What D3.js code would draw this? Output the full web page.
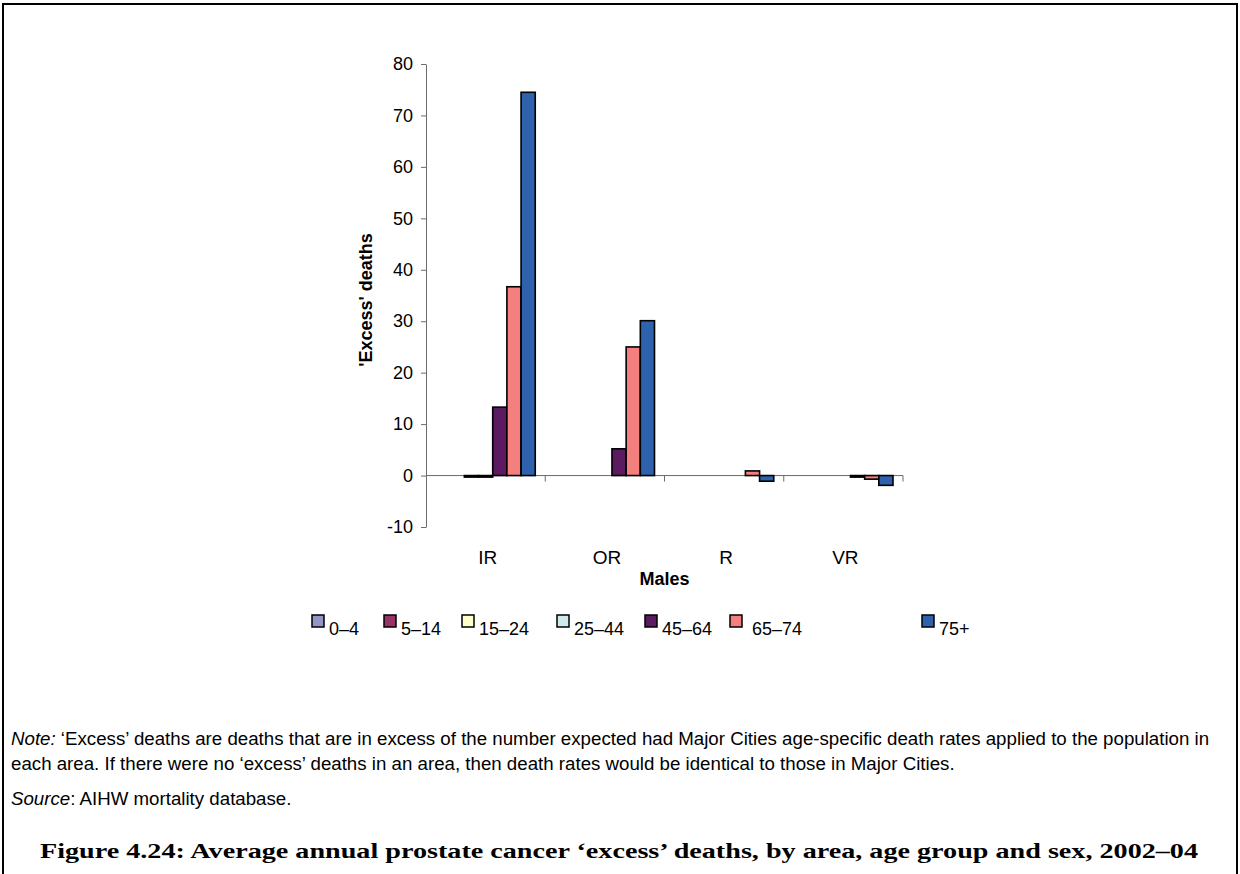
<!DOCTYPE html>
<html>
<head>
<meta charset="utf-8">
<script src="https://cdn.jsdelivr.net/npm/d3@7"></script>
<style>
	body { margin: 0; background: #fff; }
	svg { display: block; font-family: "Liberation Sans", Arial, sans-serif; }
</style>
</head>
<body>
<div id="chart"></div>
<script>
// areas along the x axis
const areas = ["IR", "OR", "R", "VR"];
// age groups (one bar each per area)
const ageGroups = ["0–4", "5–14", "15–24", "25–44", "45–64", "65–74", "75+"];
const ageColors = ["#9494c8", "#993366", "#ffffcc", "#cfe9ec", "#5c1a60", "#f47f7f", "#2f62ad"];

// 'excess' deaths per area, one list per age group (null = no bar)
const age0_4 = [null, null, null, null];
const age5_14 = [null, null, null, null];
const age15_24 = [-0.3, null, null, null];
const age25_44 = [-0.3, null, null, null];
const age45_64 = [13.3, 5.2, null, -0.3];
const age65_74 = [36.7, 25.0, 0.9, -0.7];
const age75plus = [74.5, 30.1, -1.1, -1.9];
const seriesValues = [age0_4, age5_14, age15_24, age25_44, age45_64, age65_74, age75plus];

const yTicks = [-10, 0, 10, 20, 30, 40, 50, 60, 70, 80];

// legend item x positions (Excel spaces these unevenly)
const legendX = [312, 384, 462, 557, 645, 730, 922];

const W = 1240, H = 874;
const plot = { left: 426, right: 903, top: 64, bottom: 527 };

const svg = d3.select("#chart").append("svg")
	.attr("width", W)
	.attr("height", H);

// outer frame
svg.append("rect")
	.attr("x", 3).attr("y", 4)
	.attr("width", 1234).attr("height", 900)
	.attr("fill", "none")
	.attr("stroke", "#000")
	.attr("stroke-width", 2);

const y = d3.scaleLinear()
	.domain([-10, 80])
	.range([plot.bottom, plot.top]);

const x0 = d3.scaleBand()
	.domain(areas)
	.range([plot.left, plot.right]);

const x1 = d3.scaleBand()
	.domain(ageGroups)
	.range([10, x0.bandwidth() - 10]);

// y axis
const yAxis = svg.append("g")
	.attr("transform", `translate(${plot.left},0)`)
	.call(d3.axisLeft(y).tickValues(yTicks).tickFormat(d => String(d))
		.tickSize(5).tickSizeOuter(0).tickPadding(8));
yAxis.selectAll("path, line").attr("stroke", "#6b6b6b");
yAxis.selectAll("text")
	.attr("fill", "#000")
	.style("font-size", "18px");

// x axis at zero
svg.append("line")
	.attr("x1", plot.left).attr("x2", plot.right)
	.attr("y1", y(0)).attr("y2", y(0))
	.attr("stroke", "#6b6b6b");
svg.selectAll(".xtick")
	.data(areas)
	.enter().append("line")
	.attr("class", "xtick")
	.attr("x1", d => x0(d) + x0.bandwidth())
	.attr("x2", d => x0(d) + x0.bandwidth())
	.attr("y1", y(0))
	.attr("y2", y(0) + 6)
	.attr("stroke", "#6b6b6b");

svg.selectAll(".xlabel")
	.data(areas)
	.enter().append("text")
	.attr("class", "xlabel")
	.attr("x", d => x0(d) + x0.bandwidth() / 2 + 2)
	.attr("y", 564)
	.attr("text-anchor", "middle")
	.style("font-size", "19px")
	.text(d => d);

// bars
const barData = [];
seriesValues.forEach((vals, si) => {
	vals.forEach((v, ai) => {
		if (v !== null) barData.push({ area: areas[ai], age: ageGroups[si], value: v, color: ageColors[si] });
	});
});

svg.selectAll(".bar")
	.data(barData)
	.enter().append("rect")
	.attr("class", "bar")
	.attr("x", d => x0(d.area) + x1(d.age))
	.attr("y", d => y(Math.max(0, d.value)))
	.attr("width", x1.bandwidth())
	.attr("height", d => Math.abs(y(d.value) - y(0)))
	.attr("fill", d => d.color)
	.attr("stroke", "#000")
	.attr("stroke-width", 1.6);

// axis titles
svg.append("text")
	.attr("transform", "translate(372,300) rotate(-90)")
	.attr("text-anchor", "middle")
	.style("font-size", "18px")
	.style("font-weight", "bold")
	.text("'Excess' deaths");

svg.append("text")
	.attr("x", (plot.left + plot.right) / 2)
	.attr("y", 585)
	.attr("text-anchor", "middle")
	.style("font-size", "18px")
	.style("font-weight", "bold")
	.text("Males");

// legend
const legend = svg.selectAll(".legend")
	.data(ageGroups)
	.enter().append("g")
	.attr("class", "legend")
	.attr("transform", (d, i) => `translate(${legendX[i]},0)`);
legend.append("rect")
	.attr("x", 0).attr("y", 615)
	.attr("width", 12).attr("height", 12)
	.attr("fill", (d, i) => ageColors[i])
	.attr("stroke", "#000")
	.attr("stroke-width", 1.5);
legend.append("text")
	.attr("x", (d, i) => i === 5 ? 22 : 17)
	.attr("y", 635)
	.style("font-size", "18px")
	.text(d => d);

// note, source, caption
const noteSize = "18.7px";
const note1 = svg.append("text").attr("x", 11).attr("y", 745).style("font-size", noteSize);
note1.append("tspan").style("font-style", "italic").text("Note:");
note1.append("tspan").text(" ‘Excess’ deaths are deaths that are in excess of the number expected had Major Cities age-specific death rates applied to the population in");

svg.append("text").attr("x", 11).attr("y", 770).style("font-size", noteSize)
	.text("each area. If there were no ‘excess’ deaths in an area, then death rates would be identical to those in Major Cities.");

const src = svg.append("text").attr("x", 11).attr("y", 805).style("font-size", noteSize);
src.append("tspan").style("font-style", "italic").text("Source");
src.append("tspan").text(": AIHW mortality database.");

svg.append("text")
	.attr("x", 40).attr("y", 858)
	.attr("textLength", 1158)
	.attr("lengthAdjust", "spacingAndGlyphs")
	.style("font-family", "'Liberation Serif', 'DejaVu Serif', serif")
	.style("font-size", "22px")
	.style("font-weight", "bold")
	.text("Figure 4.24: Average annual prostate cancer ‘excess’ deaths, by area, age group and sex, 2002–04");
</script>
</body>
</html>
